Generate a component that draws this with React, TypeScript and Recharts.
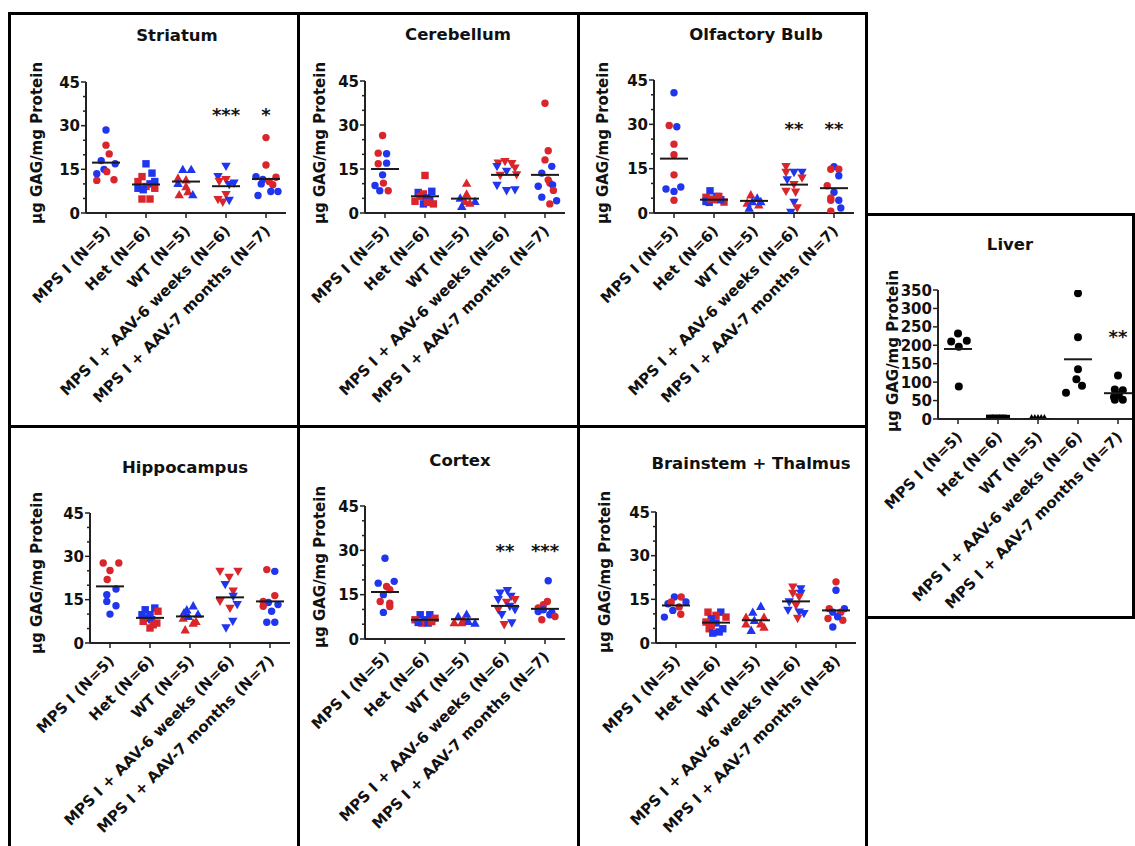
import React from "react";
import { ScatterChart, Scatter, XAxis, YAxis } from "recharts";

// [x jitter within group, value, colour code]
type Pt = [number, number, string];

const groupNames = [
  "MPS I (N=5)",
  "Het (N=6)",
  "WT (N=5)",
  "MPS I + AAV-6 weeks (N=6)",
  "MPS I + AAV-7 months (N=7)",
];
const groupNamesN8 = [
  "MPS I (N=5)",
  "Het (N=6)",
  "WT (N=5)",
  "MPS I + AAV-6 weeks (N=6)",
  "MPS I + AAV-7 months (N=8)",
];
const brainTicks = [0, 5, 10, 15, 20, 25, 30, 35, 40, 45];
const brainTickLabels = [0, 15, 30, 45];
const liverTicks = [0, 50, 100, 150, 200, 250, 300, 350];

const striatum: Pt[][] = [
  [[0, 28.5, "b"], [0, 23.3, "r"], [0.08, 20.3, "r"], [-0.12, 18.0, "b"], [0.23, 16.9, "b"], [-0.05, 15.0, "b"], [-0.23, 13.5, "b"], [0.02, 14.2, "r"], [-0.23, 11.2, "r"], [0.2, 11.4, "r"]],
  [[0, 16.9, "b"], [-0.1, 12.5, "r"], [0.15, 13.7, "b"], [-0.2, 10.8, "r"], [0.22, 10.8, "b"], [0.1, 10.0, "b"], [0, 9.1, "r"], [-0.2, 8.5, "b"], [0.22, 8.5, "r"], [-0.07, 8.0, "b"], [-0.1, 4.8, "r"], [0.1, 4.8, "r"]],
  [[-0.08, 15.0, "b"], [0.13, 15.0, "b"], [-0.2, 12.0, "r"], [0, 11.4, "r"], [-0.2, 10.2, "b"], [0, 9.1, "r"], [0.05, 7.4, "r"], [-0.17, 6.3, "r"], [0.17, 6.3, "b"]],
  [[0, 16.0, "b"], [-0.2, 12.5, "b"], [0, 11.4, "r"], [-0.17, 10.8, "r"], [0.2, 10.2, "b"], [0.08, 9.7, "b"], [0, 6.3, "r"], [-0.2, 4.6, "r"], [-0.08, 3.7, "r"], [0.08, 4.3, "b"]],
  [[0, 25.9, "r"], [0, 16.5, "r"], [-0.25, 12.5, "b"], [0.25, 12.3, "r"], [-0.08, 11.5, "b"], [0.08, 10.8, "r"], [-0.12, 10.0, "b"], [0.17, 9.7, "r"], [-0.2, 6.0, "b"], [0.12, 7.4, "b"], [0.3, 7.4, "b"]],
];
const striatumMedians = [17.3, 9.8, 10.8, 9.2, 11.7];
const striatumStars = ["", "", "", "***", "*"];

const cerebellum: Pt[][] = [
  [[-0.06, 26.4, "r"], [-0.17, 20.4, "r"], [0.04, 20.2, "b"], [-0.17, 16.8, "r"], [0.04, 17.0, "b"], [-0.06, 13.0, "b"], [-0.25, 9.4, "b"], [-0.04, 10.2, "r"], [-0.13, 7.6, "b"], [0.08, 7.6, "r"]],
  [[0, 12.8, "r"], [-0.17, 7.0, "b"], [-0.04, 6.5, "r"], [0.17, 7.4, "b"], [-0.12, 5.7, "r"], [0.12, 4.3, "b"], [0.04, 5.1, "b"], [-0.25, 4.0, "r"], [0.21, 3.1, "r"], [-0.04, 3.1, "b"], [0.06, 3.6, "r"]],
  [[0.04, 10.2, "r"], [0.04, 6.5, "r"], [-0.12, 5.1, "b"], [0, 4.0, "r"], [0.25, 4.0, "b"], [0.12, 3.4, "r"], [-0.08, 2.3, "b"]],
  [[-0.17, 17.0, "r"], [0, 17.5, "r"], [0.17, 16.8, "r"], [0.25, 15.3, "r"], [-0.2, 15.8, "b"], [0.04, 14.2, "b"], [0.29, 13.0, "r"], [-0.12, 12.8, "r"], [-0.2, 9.4, "b"], [0.04, 7.6, "b"], [0.25, 7.9, "b"]],
  [[0, 37.4, "r"], [0.08, 21.2, "r"], [0, 18.1, "r"], [0.17, 15.9, "b"], [-0.08, 13.6, "b"], [0.08, 11.3, "r"], [-0.17, 9.1, "b"], [0.12, 10.2, "r"], [0.19, 9.6, "b"], [0.21, 7.7, "r"], [-0.08, 5.4, "b"], [0.29, 4.2, "b"], [0.12, 3.1, "r"]],
];
const cerebellumMedians = [15.0, 5.7, 4.9, 13.0, 13.0];
const cerebellumStars = ["", "", "", "", ""];

const olfactory: Pt[][] = [
  [[0, 40.7, "b"], [-0.12, 29.6, "r"], [0.07, 29.2, "b"], [0, 23.3, "r"], [0, 19.7, "r"], [0, 12.9, "r"], [-0.2, 8.1, "b"], [0.17, 8.8, "b"], [0, 7.3, "b"], [0, 4.3, "r"]],
  [[-0.1, 7.5, "b"], [-0.2, 5.3, "r"], [0.07, 5.6, "b"], [0, 4.5, "r"], [-0.12, 3.6, "b"], [0.25, 3.7, "r"], [0.17, 4.5, "b"], [0.12, 5.6, "r"], [-0.2, 3.9, "b"], [-0.08, 4.7, "r"]],
  [[-0.08, 6.2, "r"], [0.08, 5.1, "b"], [-0.17, 3.4, "r"], [-0.04, 3.9, "b"], [-0.12, 1.7, "b"], [0.12, 2.8, "r"], [0.17, 3.9, "b"]],
  [[-0.2, 15.7, "r"], [-0.2, 13.7, "r"], [0, 13.7, "b"], [0.2, 13.7, "b"], [-0.17, 11.2, "b"], [0.2, 11.8, "r"], [0, 9.6, "r"], [-0.2, 7.3, "r"], [0.04, 7.0, "r"], [0, 3.6, "b"], [0.08, 1.7, "r"], [-0.08, 0.2, "b"]],
  [[0, 15.7, "b"], [-0.08, 14.8, "r"], [0.12, 14.8, "r"], [0.12, 12.6, "b"], [-0.17, 9.2, "r"], [0, 7.0, "b"], [-0.08, 5.1, "r"], [0.12, 4.3, "b"], [-0.08, 4.3, "r"], [0.17, 1.7, "b"], [-0.08, 0.6, "r"]],
];
const olfactoryMedians = [18.4, 4.5, 4.1, 9.6, 8.4];
const olfactoryStars = ["", "", "", "**", "**"];

const liver: Pt[][] = [
  [[0, 232, "k"], [-0.17, 210, "k"], [0.22, 212, "k"], [0.02, 196, "k"], [0.02, 88, "k"]],
  [[-0.2, 1, "k"], [-0.12, 0.5, "k"], [-0.04, 1, "k"], [0.04, 0.5, "k"], [0.12, 1, "k"], [0.2, 0.5, "k"]],
  [[-0.16, 0, "k"], [-0.08, 0, "k"], [0, 0, "k"], [0.08, 0, "k"], [0.16, 0, "k"]],
  [[0, 341, "k"], [0, 222, "k"], [0, 135, "k"], [-0.04, 108, "k"], [0.1, 90, "k"], [-0.3, 71, "k"]],
  [[0, 118, "k"], [-0.08, 80, "k"], [0.12, 78, "k"], [-0.08, 52, "k"], [0.12, 52, "k"], [0.02, 65, "k"], [-0.1, 60, "k"]],
];
const liverMedians = [190, 0, 0, 162, 70];
const liverStars = ["", "", "", "", "**"];

const hippocampus: Pt[][] = [
  [[-0.17, 27.7, "r"], [0.22, 27.7, "r"], [0, 25.1, "r"], [-0.07, 22.0, "r"], [0.15, 18.7, "b"], [-0.08, 16.7, "b"], [-0.08, 14.4, "b"], [0.15, 12.9, "b"], [0, 10.0, "b"]],
  [[-0.12, 11.5, "b"], [0.12, 12.1, "b"], [0, 9.8, "b"], [0.2, 11.0, "r"], [-0.2, 9.8, "b"], [-0.1, 8.6, "b"], [-0.17, 7.5, "r"], [0.04, 8.1, "b"], [0.17, 6.9, "r"], [0.08, 6.3, "r"], [0, 5.2, "r"]],
  [[0.08, 12.9, "b"], [-0.08, 11.5, "b"], [-0.15, 10.5, "b"], [0.2, 10.0, "b"], [-0.17, 8.6, "r"], [-0.04, 9.2, "b"], [0.15, 7.5, "r"], [0.08, 6.9, "r"], [-0.12, 4.6, "r"]],
  [[-0.25, 24.8, "r"], [0.2, 24.8, "r"], [-0.02, 22.7, "r"], [-0.12, 20.2, "b"], [0.08, 17.9, "r"], [0.08, 16.1, "b"], [-0.25, 14.4, "r"], [0.18, 13.3, "b"], [0, 12.0, "r"], [0.07, 7.5, "b"], [-0.1, 5.2, "b"]],
  [[-0.08, 25.4, "r"], [0.12, 24.8, "b"], [0.12, 16.4, "r"], [-0.17, 14.4, "r"], [-0.04, 14.0, "b"], [-0.17, 12.7, "r"], [0.2, 13.3, "b"], [0.04, 11.0, "b"], [-0.08, 7.2, "b"], [0.12, 7.2, "b"]],
];
const hippocampusMedians = [19.6, 8.7, 9.2, 15.8, 14.4];
const hippocampusStars = ["", "", "", "", ""];

const cortex: Pt[][] = [
  [[0, 27.3, "b"], [-0.17, 18.9, "b"], [0.23, 19.5, "b"], [0.04, 17.8, "r"], [0.12, 16.7, "r"], [-0.04, 15.0, "b"], [-0.12, 12.7, "r"], [0.12, 12.1, "r"], [0.12, 11.0, "r"], [-0.04, 9.0, "b"]],
  [[-0.12, 8.2, "b"], [0.12, 8.2, "b"], [-0.25, 6.5, "r"], [0, 6.5, "b"], [0.25, 7.0, "r"], [-0.08, 5.4, "r"], [0.08, 5.4, "b"], [0.17, 5.9, "r"], [-0.17, 5.6, "b"]],
  [[-0.17, 7.6, "b"], [0.04, 8.4, "b"], [-0.04, 6.5, "r"], [-0.27, 5.6, "r"], [0.08, 6.0, "b"], [0.25, 5.4, "b"], [-0.08, 5.6, "r"]],
  [[0.06, 16.3, "b"], [-0.12, 15.5, "b"], [0.15, 14.4, "b"], [-0.17, 13.3, "b"], [0.25, 13.3, "r"], [0.04, 12.4, "r"], [0.12, 11.0, "b"], [-0.17, 9.9, "r"], [0.25, 9.9, "b"], [-0.08, 8.2, "b"], [0.17, 5.4, "b"], [-0.02, 4.8, "r"]],
  [[0.08, 19.7, "b"], [0.06, 12.7, "r"], [-0.04, 11.6, "r"], [-0.17, 10.5, "r"], [-0.04, 9.9, "b"], [0.17, 9.0, "b"], [0.12, 8.2, "b"], [0.25, 7.6, "r"], [-0.08, 6.5, "r"], [-0.17, 9.3, "b"]],
];
const cortexMedians = [15.9, 6.5, 6.7, 11.2, 10.2];
const cortexStars = ["", "", "", "**", "***"];

const brainstem: Pt[][] = [
  [[-0.04, 15.8, "b"], [0.13, 15.8, "r"], [0.25, 14.1, "b"], [-0.2, 13.5, "b"], [-0.12, 14.1, "r"], [0.08, 12.4, "r"], [-0.08, 11.2, "b"], [0.12, 9.9, "r"], [-0.29, 8.9, "b"]],
  [[-0.2, 10.6, "r"], [0.12, 10.6, "b"], [0, 9.5, "r"], [0.25, 8.9, "r"], [-0.12, 8.3, "b"], [-0.25, 7.2, "r"], [0, 6.9, "b"], [-0.12, 6.0, "r"], [-0.17, 4.9, "r"], [0.17, 4.9, "b"], [-0.08, 3.4, "b"], [0.08, 3.8, "b"]],
  [[0.12, 12.6, "b"], [-0.08, 10.6, "b"], [-0.25, 8.9, "r"], [0.2, 8.9, "r"], [-0.04, 7.8, "b"], [-0.25, 6.6, "r"], [0.12, 6.6, "r"], [-0.12, 4.4, "b"], [0.2, 5.5, "r"]],
  [[-0.08, 19.2, "r"], [0.12, 18.6, "b"], [-0.08, 17.0, "r"], [0.12, 17.0, "b"], [0.08, 15.8, "r"], [-0.17, 14.1, "b"], [0, 12.9, "r"], [-0.2, 11.2, "b"], [0.08, 10.6, "b"], [0.2, 10.1, "b"], [0.04, 8.4, "r"]],
  [[0, 21.0, "r"], [0, 18.1, "b"], [-0.17, 11.8, "r"], [0.21, 11.8, "b"], [0.12, 10.6, "r"], [-0.08, 10.6, "b"], [-0.2, 8.4, "r"], [0.17, 7.8, "r"], [0.04, 9.0, "b"], [-0.08, 5.5, "b"]],
];
const brainstemMedians = [12.9, 7.0, 7.8, 14.3, 11.2];
const brainstemStars = ["", "", "", "", ""];

const brainMarkers = ["circle", "square", "triangle", "down", "circle"];
const liverMarkers = ["circle", "square", "triangle", "circle", "circle"];
const colours: Record<string, string> = { r: "#d8262c", b: "#1f35ee", k: "#000000" };
const FONT = '"DejaVu Sans", Arial, sans-serif';
const INK = "#111";

// page layout: box = [left, top, width, height]; L/T/B = plot y-axis x, top y, zero y
const panels = [
  { title: "Striatum", box: [8, 12, 292, 416], titleAt: [177, 35], yLabelAt: [37, 143], L: 86, T: 82, B: 213, max: 45, ticks: brainTicks, labelled: brainTickLabels, names: groupNames, markers: brainMarkers, dot: 3.7, points: striatum, medians: striatumMedians, stars: striatumStars, starY: 34.7 },
  { title: "Cerebellum", box: [297, 12, 283, 416], titleAt: [458, 34], yLabelAt: [320, 143], L: 365, T: 81, B: 213, max: 45, ticks: brainTicks, labelled: brainTickLabels, names: groupNames, markers: brainMarkers, dot: 3.7, points: cerebellum, medians: cerebellumMedians, stars: cerebellumStars, starY: 30 },
  { title: "Olfactory Bulb", box: [577, 12, 291, 416], titleAt: [756, 34], yLabelAt: [603, 143], L: 654, T: 80, B: 213, max: 45, ticks: brainTicks, labelled: brainTickLabels, names: groupNames, markers: brainMarkers, dot: 3.7, points: olfactory, medians: olfactoryMedians, stars: olfactoryStars, starY: 29.6 },
  { title: "Liver", box: [865, 213, 270, 406], titleAt: [1010, 244], yLabelAt: [893, 351], L: 938, T: 290, B: 419, max: 350, ticks: liverTicks, labelled: liverTicks, names: groupNames, markers: liverMarkers, dot: 4, points: liver, medians: liverMedians, stars: liverStars, starY: 232 },
  { title: "Hippocampus", box: [8, 425, 292, 430], titleAt: [185, 467], yLabelAt: [37, 573], L: 90, T: 513, B: 643, max: 45, ticks: brainTicks, labelled: brainTickLabels, names: groupNames, markers: brainMarkers, dot: 3.7, points: hippocampus, medians: hippocampusMedians, stars: hippocampusStars, starY: 30 },
  { title: "Cortex", box: [297, 425, 283, 430], titleAt: [460, 460], yLabelAt: [320, 567], L: 365, T: 506, B: 639, max: 45, ticks: brainTicks, labelled: brainTickLabels, names: groupNames, markers: brainMarkers, dot: 3.7, points: cortex, medians: cortexMedians, stars: cortexStars, starY: 31 },
  { title: "Brainstem + Thalmus", box: [577, 425, 291, 430], titleAt: [751, 463], yLabelAt: [605, 572], L: 656, T: 512, B: 643, max: 45, ticks: brainTicks, labelled: brainTickLabels, names: groupNamesN8, markers: brainMarkers, dot: 3.7, points: brainstem, medians: brainstemMedians, stars: brainstemStars, starY: 30 },
];

function Marker({ cx, cy, kind, fill, r }: any) {
  if (kind === "square") return <rect x={cx - r} y={cy - r} width={2 * r} height={2 * r} fill={fill} />;
  if (kind === "triangle")
    return <polygon points={`${cx},${cy - r - 1} ${cx + r + 1},${cy + r} ${cx - r - 1},${cy + r}`} fill={fill} />;
  if (kind === "down")
    return <polygon points={`${cx - r - 1},${cy - r} ${cx + r + 1},${cy - r} ${cx},${cy + r + 1}`} fill={fill} />;
  return <circle cx={cx} cy={cy} r={r} fill={fill} />;
}

function Chart({ p }: { p: (typeof panels)[number] }) {
  const plotH = p.B - p.T;
  const yTick = (t: any) => {
    const v = t.payload.value;
    const major = p.labelled.includes(v);
    return (
      <g>
        <line x1={t.x - (major ? 5 : 3)} x2={t.x} y1={t.y} y2={t.y} stroke="#222" strokeWidth={1.5} />
        {major && (
          <text x={t.x - 6} y={t.y + 5.5} textAnchor="end" fontFamily={FONT} fontWeight="bold" fontSize={15} fill={INK}>
            {v}
          </text>
        )}
      </g>
    );
  };
  const xTick = (t: any) => {
    const label = p.names[t.payload.value - 1];
    const ax = t.x + 5;
    const ay = t.y + 19;
    return (
      <g>
        <line x1={t.x} x2={t.x} y1={t.y} y2={t.y + 5} stroke="#222" strokeWidth={1.5} />
        <text x={ax} y={ay} textAnchor="end" transform={`rotate(-45 ${ax} ${ay})`} fontFamily={FONT} fontWeight="bold" fontSize={15} fill={INK}>
          {label}
        </text>
      </g>
    );
  };
  const medianData = p.medians.map((m, i) => ({ x: i + 1, y: m }));
  const starData = p.stars.map((s, i) => ({ x: i + 1, y: p.starY, s })).filter((d) => d.s);
  return (
    <div style={{ position: "absolute", left: p.L - 60, top: p.T - 20 }}>
      <ScatterChart width={290} height={plotH + 20 + 200} margin={{ top: 20, right: 30, left: 0, bottom: 0 }}>
        <XAxis
          type="number"
          dataKey="x"
          domain={[0.5, 5.5]}
          ticks={[1, 2, 3, 4, 5]}
          interval={0}
          allowDataOverflow
          height={200}
          tickSize={0}
          tickMargin={0}
          tickLine={false}
          axisLine={{ stroke: "#222", strokeWidth: 2 }}
          tick={xTick}
        />
        <YAxis
          type="number"
          dataKey="y"
          domain={[0, p.max]}
          ticks={p.ticks}
          interval={0}
          allowDataOverflow
          width={60}
          tickSize={0}
          tickMargin={0}
          tickLine={false}
          axisLine={{ stroke: "#222", strokeWidth: 2 }}
          tick={yTick}
        />
        {p.points.map((g, gi) => (
          <Scatter
            key={gi}
            data={g.map(([dx, v, c]) => ({ x: gi + 1 + dx, y: v, c }))}
            isAnimationActive={false}
            shape={(s: any) => <Marker cx={s.cx} cy={s.cy} r={p.dot} kind={p.markers[gi]} fill={colours[s.payload.c]} />}
          />
        ))}
        <Scatter
          data={medianData}
          isAnimationActive={false}
          shape={(s: any) => <line x1={s.cx - 14} x2={s.cx + 14} y1={s.cy} y2={s.cy} stroke="#1a1a1a" strokeWidth={2} />}
        />
        <Scatter
          data={starData}
          isAnimationActive={false}
          shape={(s: any) => (
            <text x={s.cx} y={s.cy + 9.5} textAnchor="middle" fontFamily={FONT} fontWeight="bold" fontSize={18} fill={INK}>
              {s.payload.s}
            </text>
          )}
        />
      </ScatterChart>
    </div>
  );
}

export default function App() {
  return (
    <div style={{ position: "absolute", left: 0, top: 0, width: 1135, height: 846, overflow: "hidden", background: "#fff", fontFamily: FONT, color: INK }}>
      {panels.map((p) => (
        <Chart key={p.title} p={p} />
      ))}
      {panels.map((p) => (
        <React.Fragment key={p.title + "-deco"}>
          <div style={{ position: "absolute", left: p.titleAt[0], top: p.titleAt[1], transform: "translate(-50%, -50%)", whiteSpace: "nowrap", fontWeight: "bold", fontSize: 16.5 }}>
            {p.title}
          </div>
          <div style={{ position: "absolute", left: p.yLabelAt[0], top: p.yLabelAt[1], transform: "translate(-50%, -50%) rotate(-90deg)", whiteSpace: "nowrap", fontWeight: "bold", fontSize: 15 }}>
            µg GAG/mg Protein
          </div>
          <div style={{ position: "absolute", left: p.box[0], top: p.box[1], width: p.box[2], height: p.box[3], border: "3px solid #000", boxSizing: "border-box" }} />
        </React.Fragment>
      ))}
    </div>
  );
}
